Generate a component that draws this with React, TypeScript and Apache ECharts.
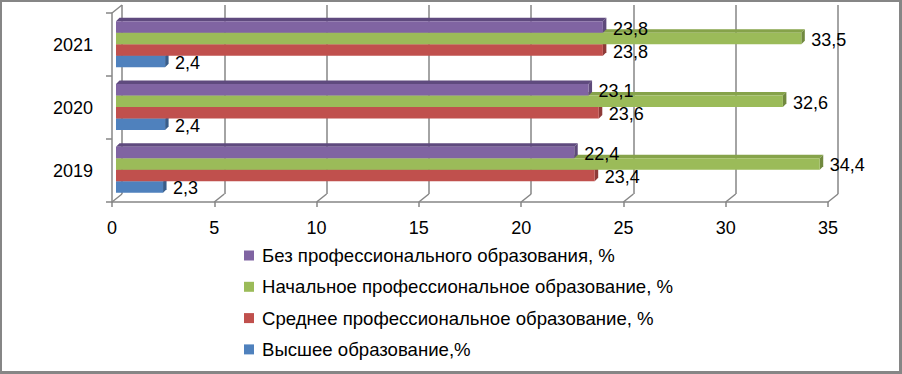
import React, { useEffect, useRef } from "react";
import * as echarts from "echarts";

const categories = ["2019", "2020", "2021"];
const seriesNames = [
  "Высшее образование,%",
  "Среднее профессиональное образование, %",
  "Начальное профессиональное образование, %",
  "Без профессионального образования, %",
];
const higherEdu = [2.3, 2.4, 2.4];
const secondaryProf = [23.4, 23.6, 23.8];
const primaryProf = [34.4, 32.6, 33.5];
const noProf = [22.4, 23.1, 23.8];
const xTicks = [0, 5, 10, 15, 20, 25, 30, 35];
const legendOrder = [seriesNames[3], seriesNames[2], seriesNames[1], seriesNames[0]];

const FONT = "Liberation Sans";
const GRAY = "#868686";

const palette = [
  { front: "#4F81BD", top: "#3F6797", side: "#385D8A" },
  { front: "#C0504D", top: "#9A403E", side: "#8E3A38" },
  { front: "#9BBB59", top: "#86A34A", side: "#71893F" },
  { front: "#8064A2", top: "#5F4A7E", side: "#5E4A7A" },
];

const fmt = (v: number) => String(v).replace(".", ",");

function makeBarRender(k: number) {
  const c = palette[k];
  return (params: any, api: any) => {
    const v = api.value(0);
    const ci = api.value(1);
    const end = api.coord([v, ci]);
    const start = api.coord([0, ci]);
    const bandH = api.size([0, 1])[1];
    const groupH = bandH * 0.735;
    const bh = groupH / 4;
    const y0 = end[1] - groupH / 2 + (3 - k) * bh;
    const x0 = start[0];
    const x1 = end[0];
    const d = 3.5;
    return {
      type: "group",
      children: [
        {
          type: "polygon",
          shape: { points: [[x0, y0], [x0 + d, y0 - d], [x1 + d, y0 - d], [x1, y0]] },
          style: { fill: c.top },
        },
        {
          type: "polygon",
          shape: { points: [[x1, y0], [x1 + d, y0 - d], [x1 + d, y0 + bh - d], [x1, y0 + bh]] },
          style: { fill: c.side },
        },
        {
          type: "rect",
          shape: { x: x0, y: y0, width: x1 - x0, height: bh },
          style: { fill: c.front },
        },
        {
          type: "text",
          x: x1 + 10,
          y: y0 + bh / 2 + 1.5,
          z2: 100,
          style: {
            text: fmt(v),
            fontFamily: FONT,
            fontSize: 18,
            fill: "#000",
            verticalAlign: "middle",
            align: "left",
          },
        },
      ],
    };
  };
}

export default function App() {
  const ref = useRef<HTMLDivElement>(null);
  useEffect(() => {
    if (!ref.current) return;
    const chart = echarts.init(ref.current, undefined, { renderer: "svg" });
    const allValues = [higherEdu, secondaryProf, primaryProf, noProf];
    const barSeries = allValues.map((vals, k) => ({
      type: "custom",
      name: seriesNames[k],
      xAxisIndex: 2,
      yAxisIndex: 2,
      itemStyle: { color: palette[k].front },
      encode: { x: 0, y: 1 },
      data: vals.map((v, i) => [v, i]),
      renderItem: makeBarRender(k),
      z: 3,
    }));
    chart.setOption({
      animation: false,
      color: palette.map((p) => p.front),
      grid: [
        { left: 112, top: 13, width: 716, height: 189 },
        { left: 122, top: 5, width: 716, height: 189 },
        { left: 116, top: 13, width: 716, height: 188 },
      ],
      xAxis: [
        {
          gridIndex: 0,
          type: "value",
          min: 0,
          max: 35,
          interval: 5,
          axisLine: { show: true, lineStyle: { color: GRAY, width: 1.5 } },
          axisTick: { show: true, length: 5, lineStyle: { color: GRAY, width: 1.5 } },
          axisLabel: { fontFamily: FONT, fontSize: 18, color: "#000", margin: 17 },
          splitLine: { show: false },
        },
        {
          gridIndex: 1,
          type: "value",
          min: 0,
          max: 35,
          interval: 5,
          axisLine: { show: false },
          axisTick: { show: false },
          axisLabel: { show: false },
          splitLine: { show: true, lineStyle: { color: GRAY, width: 1.5 } },
        },
        { gridIndex: 2, type: "value", min: 0, max: 35, interval: 5, show: false },
      ],
      yAxis: [
        {
          gridIndex: 0,
          type: "category",
          data: categories,
          axisLine: { show: true, lineStyle: { color: GRAY, width: 1.5 } },
          axisTick: { show: true, length: 6, lineStyle: { color: GRAY, width: 1.5 } },
          axisLabel: { fontFamily: FONT, fontSize: 18, color: "#000", margin: 19 },
        },
        { gridIndex: 1, type: "category", data: categories, show: false },
        { gridIndex: 2, type: "category", data: categories, show: false },
      ],
      legend: {
        orient: "vertical",
        left: 244,
        top: 246,
        padding: 0,
        itemWidth: 10,
        itemHeight: 10,
        itemGap: 12.3,
        icon: "rect",
        data: legendOrder,
        textStyle: { fontFamily: FONT, fontSize: 18.6, color: "#000", padding: [0, 0, 0, 3] },
      },
      series: [
        {
          type: "custom",
          name: "connectors",
          xAxisIndex: 0,
          yAxisIndex: 0,
          encode: { x: 0, y: 1 },
          data: xTicks.map((t) => [t, 0]),
          silent: true,
          z: 1,
          renderItem: (params: any, api: any) => {
            const cs = params.coordSys;
            const x = api.coord([api.value(0), 0])[0];
            const yb = cs.y + cs.height;
            const children: any[] = [
              {
                type: "line",
                shape: { x1: x, y1: yb, x2: x + 10, y2: yb - 8 },
                style: { stroke: GRAY, lineWidth: 1.5 },
              },
            ];
            if (api.value(0) === 0) {
              children.push({
                type: "line",
                shape: { x1: x, y1: cs.y, x2: x + 10, y2: cs.y - 8 },
                style: { stroke: GRAY, lineWidth: 1.5 },
              });
            }
            return { type: "group", children };
          },
        },
        ...barSeries,
      ],
    });
    return () => chart.dispose();
  }, []);
  return (
    <div style={{ position: "absolute", left: 0, top: 0, width: 902, height: 374, background: "#fff" }}>
      <div ref={ref} style={{ position: "absolute", left: 0, top: 0, width: 902, height: 374 }} />
      <div
        style={{
          position: "absolute",
          left: 0,
          top: 0,
          width: 902,
          height: 374,
          boxSizing: "border-box",
          borderTop: `2px solid ${GRAY}`,
          borderLeft: `2px solid ${GRAY}`,
          borderRight: `3px solid ${GRAY}`,
          borderBottom: `3px solid ${GRAY}`,
          pointerEvents: "none",
        }}
      />
    </div>
  );
}
